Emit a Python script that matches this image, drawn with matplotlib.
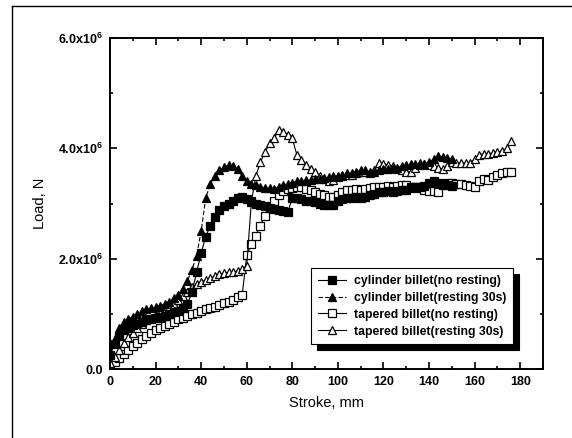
import matplotlib
matplotlib.use("Agg")
import matplotlib.pyplot as plt
from matplotlib.lines import Line2D
from matplotlib.ticker import MultipleLocator, FixedLocator, FixedFormatter

plt.rcParams['font.family'] = ['Liberation Sans', 'DejaVu Sans']
plt.rcParams['mathtext.fontset'] = 'custom'
plt.rcParams['mathtext.rm'] = 'Liberation Sans:bold'
plt.rcParams['mathtext.bf'] = 'Liberation Sans:bold'

# Load in units of 10^6 N against stroke in mm
stroke_cyl = [0, 2, 4, 6, 8, 10, 12, 14, 16, 18, 20, 22, 24, 26, 28, 30, 32, 34, 36, 38,
              40, 42, 44, 46, 48, 50, 52, 54, 56, 58, 60, 62, 64, 66, 68, 70, 72, 74, 76, 78,
              80, 82, 84, 86, 88, 90, 92, 94, 96, 98, 100, 102, 104, 106, 108, 110, 112, 114,
              116, 118, 120, 122, 124, 126, 128, 130, 132, 134, 136, 138, 140, 142, 144, 146,
              148, 150]

cyl_no_rest = [0.25, 0.45, 0.60, 0.70, 0.75, 0.80, 0.82, 0.85, 0.88, 0.90, 0.92, 0.95, 0.97,
               1.00, 1.03, 1.06, 1.10, 1.18, 1.40, 1.75, 2.10, 2.40, 2.60, 2.75, 2.88, 2.95,
               3.00, 3.05, 3.10, 3.12, 3.08, 3.05, 3.00, 2.98, 2.95, 2.92, 2.90, 2.88, 2.86,
               2.84, 3.10, 3.10, 3.08, 3.05, 3.05, 3.02, 3.00, 2.98, 2.97, 2.97, 3.05, 3.08,
               3.10, 3.10, 3.12, 3.10, 3.12, 3.15, 3.18, 3.20, 3.20, 3.22, 3.20, 3.22, 3.25,
               3.25, 3.28, 3.30, 3.30, 3.32, 3.38, 3.40, 3.38, 3.35, 3.33, 3.32]

cyl_rest = [0.30, 0.55, 0.75, 0.85, 0.90, 0.95, 1.00, 1.05, 1.08, 1.10, 1.12, 1.15, 1.18,
            1.22, 1.28, 1.35, 1.45, 1.60, 1.80, 2.05, 2.50, 3.10, 3.35, 3.50, 3.60, 3.66,
            3.70, 3.68, 3.62, 3.50, 3.40, 3.35, 3.33, 3.30, 3.28, 3.28, 3.27, 3.30, 3.33,
            3.35, 3.38, 3.40, 3.40, 3.42, 3.42, 3.44, 3.45, 3.46, 3.48, 3.50, 3.50, 3.52,
            3.55, 3.55, 3.58, 3.60, 3.60, 3.58, 3.58, 3.60, 3.62, 3.62, 3.64, 3.65, 3.68,
            3.70, 3.72, 3.72, 3.70, 3.72, 3.75, 3.80, 3.86, 3.85, 3.82, 3.80]

stroke_tap = [0, 2, 4, 6, 8, 10, 12, 14, 16, 18, 20, 22, 24, 26, 28, 30, 32, 34, 36, 38,
              40, 42, 44, 46, 48, 50, 52, 54, 56, 58, 60, 62, 64, 66, 68, 70, 72, 74, 76, 78,
              80, 82, 84, 86, 88, 90, 92, 94, 96, 98, 100, 102, 104, 106, 108, 110, 112, 114,
              116, 118, 120, 122, 124, 126, 128, 130, 132, 134, 136, 138, 140, 142, 144, 146,
              148, 150, 152, 154, 156, 158, 160, 162, 164, 166, 168, 170, 172, 174, 176]

tap_no_rest = [0.05, 0.12, 0.20, 0.28, 0.35, 0.42, 0.48, 0.55, 0.60, 0.65, 0.70, 0.74, 0.78,
               0.82, 0.86, 0.90, 0.93, 0.96, 0.99, 1.02, 1.05, 1.08, 1.10, 1.13, 1.16, 1.19,
               1.22, 1.26, 1.30, 1.34, 2.06, 2.26, 2.42, 2.60, 2.78, 2.93, 3.05, 3.15, 3.22,
               3.26, 3.28, 3.30, 3.30, 3.26, 3.24, 3.20, 3.18, 3.15, 3.12, 3.12, 3.15, 3.20,
               3.24, 3.24, 3.26, 3.25, 3.27, 3.28, 3.30, 3.30, 3.30, 3.32, 3.30, 3.32, 3.33,
               3.33, 3.30, 3.30, 3.28, 3.25, 3.22, 3.22, 3.20, 3.33, 3.38, 3.38, 3.36, 3.35,
               3.33, 3.32, 3.30, 3.40, 3.45, 3.42, 3.48, 3.52, 3.55, 3.58, 3.58]

tap_rest = [0.10, 0.22, 0.35, 0.48, 0.58, 0.66, 0.75, 0.82, 0.88, 0.93, 0.98, 1.02, 1.06,
            1.12, 1.18, 1.25, 1.32, 1.40, 1.48, 1.54, 1.58, 1.62, 1.65, 1.68, 1.72, 1.74,
            1.75, 1.76, 1.78, 1.82, 1.87, 3.02, 3.50, 3.75, 3.93, 4.09, 4.18, 4.33, 4.30,
            4.25, 4.18, 3.88, 3.79, 3.70, 3.62, 3.57, 3.50, 3.45, 3.40, 3.42, 3.48, 3.50,
            3.52, 3.52, 3.55, 3.57, 3.58, 3.55, 3.60, 3.73, 3.72, 3.70, 3.68, 3.62, 3.60,
            3.58, 3.57, 3.65, 3.73, 3.72, 3.70, 3.68, 3.65, 3.62, 3.68, 3.75, 3.74, 3.73,
            3.73, 3.74, 3.80, 3.88, 3.90, 3.90, 3.92, 3.93, 3.95, 4.00, 4.13]

labels = ["cylinder billet(no resting)", "cylinder billet(resting 30s)",
          "tapered billet(no resting)", "tapered billet(resting 30s)"]

y_ticks = [0, 2, 4, 6]
y_ticklabels = ["0.0", r"2.0x10$^{6}$", r"4.0x10$^{6}$", r"6.0x10$^{6}$"]
x_ticks = [0, 20, 40, 60, 80, 100, 120, 140, 160, 180]

fig = plt.figure(figsize=(5.72, 4.38), dpi=100)
ax = fig.add_axes([0.1923, 0.1575, 0.757, 0.7557])

ms = 5.8
common = dict(color="black", lw=0.8, markersize=ms, markeredgewidth=0.9)
ax.plot(stroke_tap, tap_no_rest, ls="-", marker="s", markerfacecolor="white",
        label=labels[2], **common)
ax.plot(stroke_tap, tap_rest, ls="-", marker="^", markerfacecolor="white",
        label=labels[3], **common)
ax.plot(stroke_cyl, cyl_no_rest, ls="-", marker="s", markerfacecolor="black",
        label=labels[0], **common)
ax.plot(stroke_cyl, cyl_rest, ls=(0, (4, 2)), marker="^", markerfacecolor="black",
        label=labels[1], **common)

ax.set_xlim(0, 190)
ax.set_ylim(0, 6)
ax.xaxis.set_major_locator(FixedLocator(x_ticks))
ax.xaxis.set_minor_locator(MultipleLocator(10))
ax.yaxis.set_major_locator(FixedLocator(y_ticks))
ax.yaxis.set_major_formatter(FixedFormatter(y_ticklabels))
ax.yaxis.set_minor_locator(MultipleLocator(1))

ax.tick_params(which="both", direction="in", top=True, right=True, width=1.2)
ax.tick_params(which="major", length=5, labelsize=9, pad=5)
ax.tick_params(which="minor", length=2.5)
for lab in ax.get_xticklabels() + ax.get_yticklabels():
    lab.set_fontweight("bold")
for s in ax.spines.values():
    s.set_linewidth(1.4)

ax.set_xlabel("Stroke, mm", fontsize=10.5, labelpad=6)
ax.set_ylabel("Load, N", fontsize=10.5, labelpad=8)

handles, labs = ax.get_legend_handles_labels()
order = [2, 3, 0, 1]
leg = ax.legend([handles[i] for i in order], [labs[i] for i in order],
                loc="upper left", bbox_to_anchor=(0.450, 0.323),
                fontsize=8.8, frameon=True, fancybox=False, handlelength=2.3,
                handletextpad=0.7, labelspacing=0.4, borderpad=0.55,
                shadow={"facecolor": "black", "edgecolor": "black", "alpha": 1,
                        "ox": 4, "oy": -4})
leg.get_frame().set_edgecolor("black")
leg.get_frame().set_linewidth(0.8)
leg.get_frame().set_alpha(1)
for t in leg.get_texts():
    t.set_fontweight("bold")

# page frame lines at the left and top
fig.add_artist(Line2D([12 / 572, 12 / 572], [0, 1 - 6 / 438], color="black", lw=1.0))
fig.add_artist(Line2D([12 / 572, 1], [1 - 6 / 438, 1 - 6 / 438], color="black", lw=1.0))

fig.savefig("out.png", dpi=100, facecolor="white")
